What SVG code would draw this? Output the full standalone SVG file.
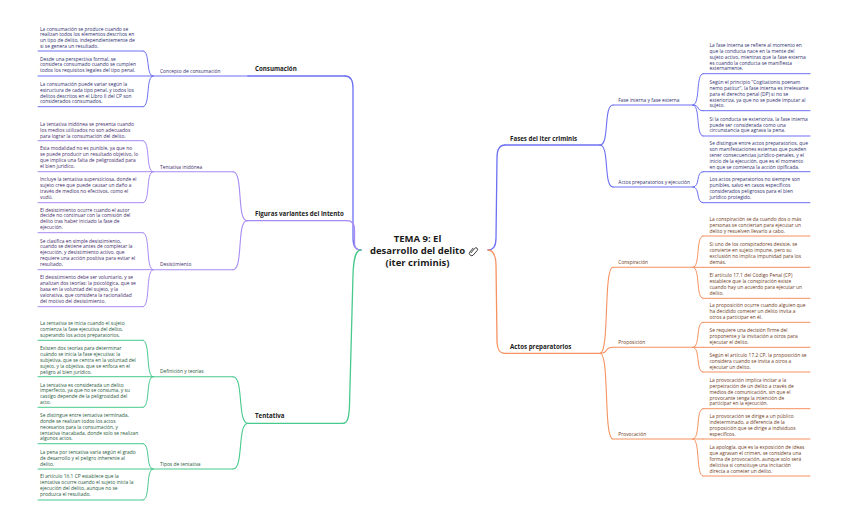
<svg xmlns="http://www.w3.org/2000/svg" width="848" height="524" viewBox="0 0 848 524">
<style>
text{font-family:"Open Sans","Liberation Sans",sans-serif}
.lf{font-size:4.9px}
.sb{font-size:4.9px}
.mn{font-size:6.2px;font-weight:700;fill:#1b1b1b}
.tt{font-size:9.5px;font-weight:700;fill:#1b1b1b}
.bt{fill:#2f3070}.pt{fill:#3f2d6b}.gt{fill:#1f5a3b}.ot{fill:#6e3b22}
path{fill:none;stroke-linecap:round}
.bs{stroke:#6d70f2}.ps{stroke:#a98af4}.gs{stroke:#48c98d}.os{stroke:#f6925f}
.u{stroke-width:1}.s{stroke-width:1.1}.m{stroke-width:1.3}
</style>
<rect width="848" height="524" fill="#ffffff"/>

<g id="connectors">
  <!-- main branches -->
  <path class="bs m" d="M345,76 C351,76 353,80 353,88 L353,238 C353,246 355,250 361,250"/>
  <path class="ps m" d="M347,220.7 C352,220.7 354.5,224 354.5,230 L354.5,243 C354.5,248 356,250 361,250"/>
  <path class="gs m" d="M361,250 C355,250 353.5,260 353,275 L349.5,405 C349,418 347.5,423.3 343,423.3"/>
  <path class="bs m" d="M488,250 C493,250 496,246 496,238 L497,158 C497,149 500,145 505,145"/>
  <path class="os m" d="M488,250 C493,250 496,256 496,265 L497,340 C497,349 499,353.3 505,353.3"/>
  <!-- left sub to main -->
  <path class="ps s" d="M233,171.7 C243.5,171.7 236.5,220.7 247,220.7"/>
  <path class="ps s" d="M233,269.7 C243.5,269.7 236.5,220.7 247,220.7"/>
  <path class="gs s" d="M233,376.7 C244,376.7 237,423.3 248,423.3"/>
  <path class="gs s" d="M233,469 C244,469 237,423.3 248,423.3"/>
  <!-- left leaves to sub -->
  <path class="bs u" d="M143,51 C150.5,51 145.5,76 153,76"/>
  <path class="bs u" d="M143,106.7 C150.5,106.7 145.5,76 153,76"/>
  <path class="ps u" d="M143,140.7 C150.5,140.7 145.5,171.7 153,171.7"/>
  <path class="ps u" d="M143,202.7 C150.5,202.7 145.5,171.7 153,171.7"/>
  <path class="ps u" d="M143,232.7 C150.5,232.7 145.5,269.7 153,269.7"/>
  <path class="ps u" d="M143,306.7 C150.5,306.7 145.5,269.7 153,269.7"/>
  <path class="gs u" d="M143,340.3 C150.5,340.3 145.5,376.7 153,376.7"/>
  <path class="gs u" d="M143,407.3 C150.5,407.3 145.5,376.7 153,376.7"/>
  <path class="gs u" d="M143,443.7 C150.5,443.7 145.5,469 153,469"/>
  <path class="gs u" d="M143,500 C150.5,500 145.5,469 153,469"/>
  <!-- right main to sub -->
  <path class="bs s" d="M600,145 C609.75,145 603.25,105 613,105"/>
  <path class="bs s" d="M600,145 C609.75,145 603.25,187 613,187"/>
  <path class="os s" d="M600,353.3 C609.75,353.3 603.25,267.3 613,267.3"/>
  <path class="os s" d="M600,353.3 C609.75,353.3 603.25,347.3 613,347.3"/>
  <path class="os s" d="M600,353.3 C609.75,353.3 603.25,439 613,439"/>
  <!-- right sub to leaves -->
  <path class="bs u" d="M693,105 C700.5,105 695.5,73.7 703,73.7"/>
  <path class="bs u" d="M693,105 C700.5,105 695.5,110.7 703,110.7"/>
  <path class="bs u" d="M693,105 C700.5,105 695.5,136 703,136"/>
  <path class="bs u" d="M693,187 C700.5,187 695.5,171.7 703,171.7"/>
  <path class="bs u" d="M693,187 C700.5,187 695.5,202.7 703,202.7"/>
  <path class="os u" d="M693,267.3 C700.5,267.3 695.5,236 703,236"/>
  <path class="os u" d="M693,267.3 L703,267.3"/>
  <path class="os u" d="M693,267.3 C700.5,267.3 695.5,298.3 703,298.3"/>
  <path class="os u" d="M693,347.3 C700.5,347.3 695.5,322.3 703,322.3"/>
  <path class="os u" d="M693,347.3 L703,347.3"/>
  <path class="os u" d="M693,347.3 C700.5,347.3 695.5,372 703,372"/>
  <path class="os u" d="M693,439 C700.5,439 695.5,408.7 703,408.7"/>
  <path class="os u" d="M693,439 L703,439"/>
  <path class="os u" d="M693,439 C700.5,439 695.5,476 703,476"/>
</g>

<g id="root">
  <text class="tt" text-anchor="middle"><tspan x="417.5" y="242">TEMA 9: El</tspan><tspan x="417.5" y="254">desarrollo del delito</tspan><tspan x="417.5" y="265.5">(iter criminis)</tspan></text>
  <path d="M0,3.2 L0,-2.4 A1.6,1.6 0 0 1 3.2,-2.4 L3.2,3.4 A2.3,2.3 0 0 1 -1.4,3.4 L-1.4,-1.4" stroke="#333" stroke-width="0.9" transform="translate(473.2,250.2) rotate(40)"/>
</g>

<!-- ===== Consumación ===== -->
<g id="consumacion">
  <path class="bs m" d="M248,76 L345,76"/>
  <text class="mn" x="255" y="71">Consumación</text>
</g>
<g id="concepto-consumacion">
  <path class="bs s" d="M153,76 L248,76"/>
  <text class="sb bt" x="160" y="73">Concepto de consumación</text>
</g>
<g id="cons-leaf1">
  <path class="bs u" d="M38,51 L143,51"/>
  <text class="lf bt"><tspan x="40" y="30.7">La consumación se produce cuando se</tspan><tspan x="40" y="36.4">realizan todos los elementos descritos en</tspan><tspan x="40" y="42">un tipo de delito, independientemente de</tspan><tspan x="40" y="47.7">si se genera un resultado.</tspan></text>
</g>
<g id="cons-leaf2">
  <path class="bs u" d="M38,76 L153,76"/>
  <text class="lf bt"><tspan x="40" y="60.7">Desde una perspectiva formal, se</tspan><tspan x="40" y="66.4">considera consumado cuando se cumplen</tspan><tspan x="40" y="72.4">todos los requisitos legales del tipo penal.</tspan></text>
</g>
<g id="cons-leaf3">
  <path class="bs u" d="M38,106.7 L143,106.7"/>
  <text class="lf bt"><tspan x="40" y="86">La consumación puede variar según la</tspan><tspan x="40" y="92">estructura de cada tipo penal, y todos los</tspan><tspan x="40" y="97.7">delitos descritos en el Libro II del CP son</tspan><tspan x="40" y="103.4">considerados consumados.</tspan></text>
</g>

<!-- ===== Figuras variantes ===== -->
<g id="figuras">
  <path class="ps m" d="M247,220.7 L347,220.7"/>
  <text class="mn" x="255" y="216">Figuras variantes del intento</text>
</g>
<g id="tentativa-inidonea">
  <path class="ps s" d="M153,171.7 L233,171.7"/>
  <text class="sb pt" x="160" y="168.7">Tentativa inidónea</text>
</g>
<g id="ti-leaf1">
  <path class="ps u" d="M38,140.7 L143,140.7"/>
  <text class="lf pt"><tspan x="40" y="125.7">La tentativa inidónea se presenta cuando</tspan><tspan x="40" y="131.7">los medios utilizados no son adecuados</tspan><tspan x="40" y="137.7">para lograr la consumación del delito.</tspan></text>
</g>
<g id="ti-leaf2">
  <path class="ps u" d="M38,171.7 L153,171.7"/>
  <text class="lf pt"><tspan x="40" y="150.4">Esta modalidad no es punible, ya que no</tspan><tspan x="40" y="156.4">se puede producir un resultado objetivo, lo</tspan><tspan x="40" y="162.4">que implica una falta de peligrosidad para</tspan><tspan x="40" y="168.4">el bien jurídico.</tspan></text>
</g>
<g id="ti-leaf3">
  <path class="ps u" d="M38,202.7 L143,202.7"/>
  <text class="lf pt"><tspan x="40" y="181.4">Incluye la tentativa supersticiosa, donde el</tspan><tspan x="40" y="187.4">sujeto cree que puede causar un daño a</tspan><tspan x="40" y="193.4">través de medios no efectivos, como el</tspan><tspan x="40" y="199.4">vudú.</tspan></text>
</g>
<g id="desistimiento">
  <path class="ps s" d="M153,269.7 L233,269.7"/>
  <text class="sb pt" x="160" y="266">Desistimiento</text>
</g>
<g id="des-leaf1">
  <path class="ps u" d="M38,232.7 L143,232.7"/>
  <text class="lf pt"><tspan x="40" y="211.7">El desistimiento ocurre cuando el autor</tspan><tspan x="40" y="217.4">decide no continuar con la comisión del</tspan><tspan x="40" y="223.4">delito tras haber iniciado la fase de</tspan><tspan x="40" y="229.4">ejecución.</tspan></text>
</g>
<g id="des-leaf2">
  <path class="ps u" d="M38,269.7 L153,269.7"/>
  <text class="lf pt"><tspan x="40" y="242.7">Se clasifica en simple desistimiento,</tspan><tspan x="40" y="248.4">cuando se detiene antes de completar la</tspan><tspan x="40" y="254.4">ejecución, y desistimiento activo, que</tspan><tspan x="40" y="260.4">requiere una acción positiva para evitar el</tspan><tspan x="40" y="266">resultado.</tspan></text>
</g>
<g id="des-leaf3">
  <path class="ps u" d="M38,306.7 L143,306.7"/>
  <text class="lf pt"><tspan x="40" y="279.4">El desistimiento debe ser voluntario, y se</tspan><tspan x="40" y="285.4">analizan dos teorías: la psicológica, que se</tspan><tspan x="40" y="291.4">basa en la voluntad del sujeto, y la</tspan><tspan x="40" y="297.4">valorativa, que considera la racionalidad</tspan><tspan x="40" y="303">del motivo del desistimiento.</tspan></text>
</g>

<!-- ===== Tentativa ===== -->
<g id="tentativa">
  <path class="gs m" d="M248,423.3 L343,423.3"/>
  <text class="mn" x="255" y="418">Tentativa</text>
</g>
<g id="definicion-teorias">
  <path class="gs s" d="M153,376.7 L233,376.7"/>
  <text class="sb gt" x="160" y="373.4">Definición y teorías</text>
</g>
<g id="def-leaf1">
  <path class="gs u" d="M38,340.3 L143,340.3"/>
  <text class="lf gt"><tspan x="40" y="325.4">La tentativa se inicia cuando el sujeto</tspan><tspan x="40" y="331">comienza la fase ejecutiva del delito,</tspan><tspan x="40" y="337">superando los actos preparatorios.</tspan></text>
</g>
<g id="def-leaf2">
  <path class="gs u" d="M38,376.7 L153,376.7"/>
  <text class="lf gt"><tspan x="40" y="350">Existen dos teorías para determinar</tspan><tspan x="40" y="356">cuándo se inicia la fase ejecutiva: la</tspan><tspan x="40" y="362">subjetiva, que se centra en la voluntad del</tspan><tspan x="40" y="368">sujeto, y la objetiva, que se enfoca en el</tspan><tspan x="40" y="373.7">peligro al bien jurídico.</tspan></text>
</g>
<g id="def-leaf3">
  <path class="gs u" d="M38,407.3 L143,407.3"/>
  <text class="lf gt"><tspan x="40" y="386.7">La tentativa es considerada un delito</tspan><tspan x="40" y="392.4">imperfecto, ya que no se consuma, y su</tspan><tspan x="40" y="398.4">castigo depende de la peligrosidad del</tspan><tspan x="40" y="404.4">acto.</tspan></text>
</g>
<g id="tipos-tentativa">
  <path class="gs s" d="M153,469 L233,469"/>
  <text class="sb gt" x="160" y="465.7">Tipos de tentativa</text>
</g>
<g id="tip-leaf1">
  <path class="gs u" d="M38,443.7 L143,443.7"/>
  <text class="lf gt"><tspan x="40" y="416.7">Se distingue entre tentativa terminada,</tspan><tspan x="40" y="422.7">donde se realizan todos los actos</tspan><tspan x="40" y="428.7">necesarios para la consumación, y</tspan><tspan x="40" y="434.7">tentativa inacabada, donde solo se realizan</tspan><tspan x="40" y="440.4">algunos actos.</tspan></text>
</g>
<g id="tip-leaf2">
  <path class="gs u" d="M38,469 L153,469"/>
  <text class="lf gt"><tspan x="40" y="454">La pena por tentativa varía según el grado</tspan><tspan x="40" y="459.7">de desarrollo y el peligro inherente al</tspan><tspan x="40" y="465.7">delito.</tspan></text>
</g>
<g id="tip-leaf3">
  <path class="gs u" d="M38,500 L143,500"/>
  <text class="lf gt"><tspan x="40" y="478.4">El artículo 16.1 CP establece que la</tspan><tspan x="40" y="484.4">tentativa ocurre cuando el sujeto inicia la</tspan><tspan x="40" y="490.4">ejecución del delito, aunque no se</tspan><tspan x="40" y="496.4">produzca el resultado.</tspan></text>
</g>

<!-- ===== Fases del iter criminis ===== -->
<g id="fases">
  <path class="bs m" d="M505,145 L600,145"/>
  <text class="mn" x="510" y="141">Fases del iter criminis</text>
</g>
<g id="fase-interna-externa">
  <path class="bs s" d="M613,105 L693,105"/>
  <text class="sb bt" x="618.3" y="101.7">Fase interna y fase externa</text>
</g>
<g id="fie-leaf1">
  <path class="bs u" d="M703,73.7 L810,73.7"/>
  <text class="lf bt"><tspan x="709.5" y="47">La fase interna se refiere al momento en</tspan><tspan x="709.5" y="52.7">que la conducta nace en la mente del</tspan><tspan x="709.5" y="58.7">sujeto activo, mientras que la fase externa</tspan><tspan x="709.5" y="64.7">es cuando la conducta se manifiesta</tspan><tspan x="709.5" y="70.4">externamente.</tspan></text>
</g>
<g id="fie-leaf2">
  <path class="bs u" d="M703,110.7 L810,110.7"/>
  <text class="lf bt"><tspan x="709.5" y="84">Según el principio &quot;Cogitationis poenam</tspan><tspan x="709.5" y="89.7">nemo patitur&quot;, la fase interna es irrelevante</tspan><tspan x="709.5" y="95.7">para el derecho penal (DP) si no se</tspan><tspan x="709.5" y="101.7">exterioriza, ya que no se puede imputar al</tspan><tspan x="709.5" y="107.4">sujeto.</tspan></text>
</g>
<g id="fie-leaf3">
  <path class="bs u" d="M703,136 L810,136"/>
  <text class="lf bt"><tspan x="709.5" y="121">Si la conducta se exterioriza, la fase interna</tspan><tspan x="709.5" y="126.7">puede ser considerada como una</tspan><tspan x="709.5" y="132.4">circunstancia que agrava la pena.</tspan></text>
</g>
<g id="actos-ejecucion">
  <path class="bs s" d="M613,187 L693,187"/>
  <text class="sb bt" x="618.3" y="184">Actos preparatorios y ejecución</text>
</g>
<g id="ae-leaf1">
  <path class="bs u" d="M703,171.7 L810,171.7"/>
  <text class="lf bt"><tspan x="709.5" y="145">Se distingue entre actos preparatorios, que</tspan><tspan x="709.5" y="150.7">son manifestaciones externas que pueden</tspan><tspan x="709.5" y="156.7">tener consecuencias jurídico-penales, y el</tspan><tspan x="709.5" y="162.7">inicio de la ejecución, que es el momento</tspan><tspan x="709.5" y="168.7">en que se comienza la acción tipificada.</tspan></text>
</g>
<g id="ae-leaf2">
  <path class="bs u" d="M703,202.7 L810,202.7"/>
  <text class="lf bt"><tspan x="709.5" y="181.4">Los actos preparatorios no siempre son</tspan><tspan x="709.5" y="187.4">punibles, salvo en casos específicos</tspan><tspan x="709.5" y="193.4">considerados peligrosos para el bien</tspan><tspan x="709.5" y="199.4">jurídico protegido.</tspan></text>
</g>

<!-- ===== Actos preparatorios ===== -->
<g id="actos-preparatorios">
  <path class="os m" d="M505,353.3 L600,353.3"/>
  <text class="mn" x="510" y="349">Actos preparatorios</text>
</g>
<g id="conspiracion">
  <path class="os s" d="M613,267.3 L693,267.3"/>
  <text class="sb ot" x="618.3" y="264">Conspiración</text>
</g>
<g id="con-leaf1">
  <path class="os u" d="M703,236 L810,236"/>
  <text class="lf ot"><tspan x="709.5" y="221">La conspiración se da cuando dos o más</tspan><tspan x="709.5" y="227">personas se conciertan para ejecutar un</tspan><tspan x="709.5" y="233">delito y resuelven llevarlo a cabo.</tspan></text>
</g>
<g id="con-leaf2">
  <path class="os u" d="M703,267.3 L810,267.3"/>
  <text class="lf ot"><tspan x="709.5" y="246">Si uno de los conspiradores desiste, se</tspan><tspan x="709.5" y="252">convierte en sujeto impune, pero su</tspan><tspan x="709.5" y="258">exclusión no implica impunidad para los</tspan><tspan x="709.5" y="264">demás.</tspan></text>
</g>
<g id="con-leaf3">
  <path class="os u" d="M703,298.3 L810,298.3"/>
  <text class="lf ot"><tspan x="709.5" y="277">El artículo 17.1 del Código Penal (CP)</tspan><tspan x="709.5" y="283">establece que la conspiración existe</tspan><tspan x="709.5" y="289">cuando hay un acuerdo para ejecutar un</tspan><tspan x="709.5" y="295">delito.</tspan></text>
</g>
<g id="proposicion">
  <path class="os s" d="M613,347.3 L693,347.3"/>
  <text class="sb ot" x="618.3" y="344">Proposición</text>
</g>
<g id="pro-leaf1">
  <path class="os u" d="M703,322.3 L810,322.3"/>
  <text class="lf ot"><tspan x="709.5" y="307.4">La proposición ocurre cuando alguien que</tspan><tspan x="709.5" y="313">ha decidido cometer un delito invita a</tspan><tspan x="709.5" y="319">otros a participar en él.</tspan></text>
</g>
<g id="pro-leaf2">
  <path class="os u" d="M703,347.3 L810,347.3"/>
  <text class="lf ot"><tspan x="709.5" y="332">Se requiere una decisión firme del</tspan><tspan x="709.5" y="338">proponente y la invitación a otros para</tspan><tspan x="709.5" y="344">ejecutar el delito.</tspan></text>
</g>
<g id="pro-leaf3">
  <path class="os u" d="M703,372 L810,372"/>
  <text class="lf ot"><tspan x="709.5" y="356.7">Según el artículo 17.2 CP, la proposición se</tspan><tspan x="709.5" y="362.7">considera cuando se invita a otros a</tspan><tspan x="709.5" y="368.7">ejecutar un delito.</tspan></text>
</g>
<g id="provocacion">
  <path class="os s" d="M613,439 L693,439"/>
  <text class="sb ot" x="618.3" y="435.7">Provocación</text>
</g>
<g id="prov-leaf1">
  <path class="os u" d="M703,408.7 L810,408.7"/>
  <text class="lf ot"><tspan x="709.5" y="381.7">La provocación implica incitar a la</tspan><tspan x="709.5" y="387.7">perpetración de un delito a través de</tspan><tspan x="709.5" y="393.7">medios de comunicación, sin que el</tspan><tspan x="709.5" y="399.7">provocante tenga la intención de</tspan><tspan x="709.5" y="405.2">participar en la ejecución.</tspan></text>
</g>
<g id="prov-leaf2">
  <path class="os u" d="M703,439 L810,439"/>
  <text class="lf ot"><tspan x="709.5" y="418.4">La provocación se dirige a un público</tspan><tspan x="709.5" y="424.4">indeterminado, a diferencia de la</tspan><tspan x="709.5" y="430.4">proposición que se dirige a individuos</tspan><tspan x="709.5" y="436">específicos.</tspan></text>
</g>
<g id="prov-leaf3">
  <path class="os u" d="M703,476 L810,476"/>
  <text class="lf ot"><tspan x="709.5" y="449.4">La apología, que es la exposición de ideas</tspan><tspan x="709.5" y="455">que agravan el crimen, se considera una</tspan><tspan x="709.5" y="461">forma de provocación, aunque solo será</tspan><tspan x="709.5" y="467">delictiva si constituye una incitación</tspan><tspan x="709.5" y="472.7">directa a cometer un delito.</tspan></text>
</g>
</svg>
